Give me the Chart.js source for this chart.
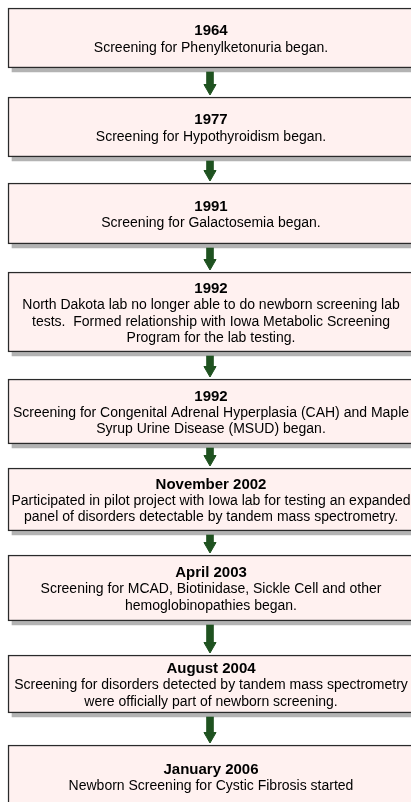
<!DOCTYPE html>
<html><head><meta charset="utf-8">
<script src="https://cdn.jsdelivr.net/npm/chart.js@4/dist/chart.umd.min.js"></script>
<style>html,body{margin:0;padding:0;background:#fff;overflow:hidden}canvas{display:block}</style>
</head><body>
<canvas id="c" width="411" height="802"></canvas>
<script>
// ---- content ----
const eventDates = ['1964', '1977', '1991', '1992', '1992', 'November 2002', 'April 2003', 'August 2004', 'January 2006'];
const eventDescriptions = [
  ['Screening for Phenylketonuria began.'],
  ['Screening for Hypothyroidism began.'],
  ['Screening for Galactosemia began.'],
  ['North Dakota lab no longer able to do newborn screening lab', 'tests.  Formed relationship with Iowa Metabolic Screening', 'Program for the lab testing.'],
  ['Screening for Congenital Adrenal Hyperplasia (CAH) and Maple', 'Syrup Urine Disease (MSUD) began.'],
  ['Participated in pilot project with Iowa lab for testing an expanded', 'panel of disorders detectable by tandem mass spectrometry.'],
  ['Screening for MCAD, Biotinidase, Sickle Cell and other', 'hemoglobinopathies began.'],
  ['Screening for disorders detected by tandem mass spectrometry', 'were officially part of newborn screening.'],
  ['Newborn Screening for Cystic Fibrosis started']
];

// ---- layout (diagram units) ----
const boxTop    = [8, 97, 183, 272, 379, 468, 555, 655, 745];
const boxBottom = [68, 157, 244, 352, 444, 531, 621, 713, 808];
const BOX_LEFT = 8, BOX_RIGHT = 414, SHADOW = 4;
const ARROW_X = 210, SHAFT_HALF = 3.5, HEAD_R = 7, HEAD_GAP = 2;
const LINE_H = 16.5, TEXT_SHIFT = 1.5;
const FONT = '"Liberation Sans", Arial, Helvetica, sans-serif';
const FILL = 'rgb(255,241,240)', BORDER = '#2a2a2a', SHADOW_COL = '#b3b3b3', ARROW_COL = '#1f5220';

const datasets = [];
// shadows
eventDates.forEach((d, i) => {
  datasets.push({
    type: 'bar', indexAxis: 'y', grouped: false, order: 5,
    data: [{ x: [BOX_LEFT + SHADOW, BOX_RIGHT + SHADOW], y: (boxTop[i] + boxBottom[i]) / 2 + SHADOW }],
    barThickness: boxBottom[i] - boxTop[i],
    backgroundColor: SHADOW_COL, borderWidth: 0
  });
});
// boxes
eventDates.forEach((d, i) => {
  datasets.push({
    type: 'bar', indexAxis: 'y', grouped: false, order: 4,
    data: [{ x: [BOX_LEFT, BOX_RIGHT], y: (boxTop[i] + boxBottom[i]) / 2 }],
    barThickness: boxBottom[i] - boxTop[i],
    backgroundColor: FILL, borderColor: BORDER, borderWidth: 1.5, borderSkipped: false
  });
});
// arrow shafts
const heads = [];
for (let i = 0; i < eventDates.length - 1; i++) {
  const tip = boxTop[i + 1] - HEAD_GAP;
  const headCenter = tip - HEAD_R;
  const shaftTop = boxBottom[i] + SHADOW;
  const shaftBottom = headCenter - HEAD_R / 2 + 1;
  datasets.push({
    type: 'bar', indexAxis: 'y', grouped: false, order: 3,
    data: [{ x: [ARROW_X - SHAFT_HALF, ARROW_X + SHAFT_HALF], y: (shaftTop + shaftBottom) / 2 }],
    barThickness: shaftBottom - shaftTop,
    backgroundColor: ARROW_COL, borderWidth: 0
  });
  heads.push({ x: ARROW_X, y: headCenter });
}
datasets.push({
  type: 'scatter', indexAxis: 'x', order: 1,
  data: heads, pointStyle: 'triangle', rotation: 180, radius: HEAD_R,
  backgroundColor: ARROW_COL, borderColor: ARROW_COL, borderWidth: 1
});

const textPlugin = {
  id: 'boxText',
  afterDatasetsDraw(chart) {
    const { ctx, scales: { x, y } } = chart;
    ctx.save();
    ctx.fillStyle = '#000';
    ctx.textAlign = 'center';
    ctx.textBaseline = 'middle';
    eventDates.forEach((d, i) => {
      const lines = eventDescriptions[i];
      const n = lines.length + 1;
      const cx = x.getPixelForValue((BOX_LEFT + BOX_RIGHT) / 2);
      const cy = y.getPixelForValue((boxTop[i] + boxBottom[i]) / 2 + TEXT_SHIFT);
      const start = cy - (n - 1) * LINE_H / 2;
      ctx.font = 'bold 15px ' + FONT;
      ctx.fillText(d, cx, start);
      ctx.font = '14px ' + FONT;
      lines.forEach((l, j) => ctx.fillText(l, cx, start + (j + 1) * LINE_H));
    });
    ctx.restore();
  }
};

new Chart(document.getElementById('c'), {
  type: 'bar',
  data: { datasets },
  options: {
    responsive: false, animation: false, indexAxis: 'y',
    layout: { padding: 0, autoPadding: false },
    scales: {
      x: { type: 'linear', min: 0, max: 411, display: false, offset: false, grace: 0 },
      y: { type: 'linear', min: 0, max: 802, reverse: true, display: false, offset: false, grace: 0 }
    },
    plugins: { legend: { display: false }, tooltip: { enabled: false } }
  },
  plugins: [textPlugin]
});
</script>
</body></html>
